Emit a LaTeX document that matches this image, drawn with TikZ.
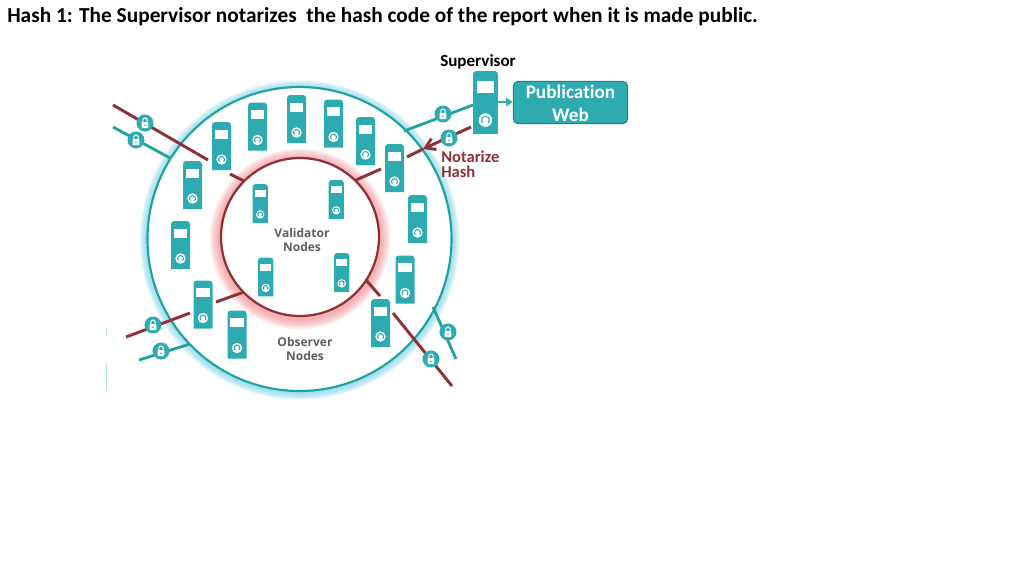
\documentclass[tikz,border=0pt]{standalone}
\usepackage{fontspec}
\setmainfont{Carlito}[Ligatures=NoCommon]
\newfontfamily\labelfont{Open Sans}
\usetikzlibrary{arrows.meta}
\definecolor{tealA}{HTML}{2EAAB1}
\definecolor{tealL}{HTML}{1FA39C}
\definecolor{redL}{HTML}{8F3136}
\definecolor{glowB}{HTML}{6CCFE8}
\definecolor{glowR}{HTML}{EE6F76}
\definecolor{greyT}{HTML}{5F5F5F}
\tikzset{
  x=0.75pt,y=-0.75pt,
  tealline/.style={draw=tealL,line width=2.1pt},
  redline/.style={draw=redL,line width=2.2pt},
  ringO/.style={draw=tealL,line width=1.6pt},
  ringI/.style={draw=redL,line width=1.7pt},
  greylabel/.style={font=\labelfont\bfseries\fontsize{9}{10.4}\selectfont,text=greyT,align=center},
  title/.style={font=\bfseries\fontsize{16}{18}\selectfont,anchor=west,inner sep=0pt},
}
% x,y = top-left corner; #3 = scale (1 = 19 x 48 px)
\newcommand{\serverbox}[3]{%
  \begin{scope}[shift={(#1,#2)},scale=#3]
    \fill[tealA] (0,48) [rounded corners=2.4pt] -- (0,0) -- (19,0) [sharp corners] -- (19,48) -- cycle;
    \fill[white] (2.7,7.5) rectangle (16.3,16.5);
    \fill[white] (9.5,37.5) circle (5.2);
    \draw[tealA,line width=0.8pt] (9.5,37.5) ++(135:3) arc[start angle=135,end angle=405,radius=3];
  \end{scope}}
\newcommand{\lockicon}[3]{%
  \node[circle,fill=tealA,minimum size=12.8pt,inner sep=0pt] (#1) at (#2,#3) {};
  \begin{scope}[shift={(#2,#3)}]
    \fill[white,rounded corners=0.5pt] (-3.4,-0.8) rectangle (3.4,5.2);
    \draw[white,line width=0.8pt] (-2.2,-0.8) -- (-2.2,-2.8) arc[start angle=180,end angle=360,radius=2.2] -- (2.2,-0.8);
    \fill[tealA] (0,2.2) circle (0.9);
  \end{scope}}
\begin{document}
\begin{tikzpicture}
\useasboundingbox (0,0) rectangle (1024,576);
\fill[white] (0,0) rectangle (1024,576);
% outer disc with glow
\foreach \r in {159.5,158.5,157,155.5,154}{\fill[glowB,opacity=0.17] (299.5,240) circle (\r);}
\fill[white] (299.5,239) circle (152);
\draw[ringO] (299.5,239) circle (152);
% inner disc with glow
\foreach \r in {90,88,86,84,82}{\fill[glowR,opacity=0.14] (300,239) circle (\r);}
\fill[white] (300,237) circle (79);
\draw[ringI] (300,237) circle (79);
% connector ends
\coordinate (ra1) at (113,105); \coordinate (ra2) at (208,160);
\coordinate (ra3) at (230,174); \coordinate (ra4) at (244,181);
\coordinate (ta1) at (113,127); \coordinate (ta2) at (170,158);
\coordinate (tb1) at (404,131); \coordinate (tb2) at (473,105);
\coordinate (rb1) at (471,127); \coordinate (rb2) at (423,149);
\coordinate (rb3) at (407,157); \coordinate (rb4) at (381,169);
\coordinate (rb5) at (356,180);
\coordinate (rc1) at (126,337); \coordinate (rc2) at (190,313);
\coordinate (rc3) at (216,302); \coordinate (rc4) at (244,292);
\coordinate (tc1) at (139,360); \coordinate (tc2) at (190,344);
\coordinate (rd1) at (366,280); \coordinate (rd2) at (380,296);
\coordinate (rd3) at (393,313); \coordinate (rd4) at (452,386);
\coordinate (td1) at (433,307); \coordinate (td2) at (456,359);
\draw[redline] (ra1) -- (ra2);
\draw[redline] (ra3) -- (ra4);
\draw[tealline] (ta1) -- (ta2);
\draw[tealline] (tb1) -- (tb2);
\draw[redline,-{Straight Barb[length=7pt,width=9pt]}] (rb1) -- (rb2);
\draw[redline] (rb4) -- (rb5);
\draw[redline] (rb2) -- (rb3);
\draw[redline] (rc1) -- (rc2);
\draw[redline] (rc3) -- (rc4);
\draw[tealline] (tc1) -- (tc2);
\draw[redline] (rd1) -- (rd2);
\draw[redline] (rd3) -- (rd4);
\draw[tealline] (td1) -- (td2);
% observer nodes
\serverbox{183}{161}{1}
\serverbox{212}{122}{1}
\serverbox{248}{102.5}{1}
\serverbox{287}{95}{1}
\serverbox{324}{99.5}{1}
\serverbox{356}{117}{1}
\serverbox{385}{144}{1}
\serverbox{408}{195}{1}
\serverbox{395.5}{255.5}{1}
\serverbox{371}{299}{1}
\serverbox{227.5}{310.5}{1}
\serverbox{193.5}{280.5}{1}
\serverbox{171}{221}{1}
% validator nodes
\serverbox{252.5}{184}{0.81}
\serverbox{328.5}{180}{0.81}
\serverbox{258}{257.5}{0.81}
\serverbox{334}{253}{0.81}
% supervisor
\serverbox{473}{71}{1.31}
% locks
\lockicon{l1}{145}{123}
\lockicon{l2}{136}{140}
\lockicon{l3}{443}{114}
\lockicon{l4}{449}{138}
\lockicon{l5}{153}{325}
\lockicon{l6}{161}{351}
\lockicon{l7}{448}{332}
\lockicon{l8}{431}{359}
% labels
\node[greylabel] (val) at (302,240) {Validator\\Nodes};
\node[greylabel] (obs) at (305,349) {Observer\\Nodes};
\node[title] (ttl) at (7,17) {Hash 1: The Supervisor notarizes\ \ the hash code of the report when it is made public.};
\node[font=\bfseries\fontsize{12.8}{13}\selectfont,inner sep=0pt] (sup) at (478,62) {Supervisor};
\coordinate (supout) at (498,102);
\node[draw=tealL!70!black,fill=tealA,line width=0.6pt,rounded corners=4pt,minimum width=86pt,minimum height=32pt,inner sep=0pt] (web) at (570.5,102.5) {};
\node[inner sep=0pt,align=center,text=white,font=\bfseries\fontsize{14.4}{17}\selectfont] (webt) at (570.5,103.5) {Publication\\Web};
\draw[tealA,line width=1.4pt,-{Triangle[length=5pt,width=6pt]}] (supout) -- (web.west |- supout);
\node[anchor=north west,inner sep=0pt,align=left,text=redL,font=\bfseries\fontsize{12.4}{10.8}\selectfont] (nh) at (441,151) {Notarize\\Hash};
% scan remnants at the left edge
\coordinate (e1) at (106.5,329); \coordinate (e2) at (106.5,335);
\coordinate (e3) at (106.5,364); \coordinate (e4) at (106.5,390);
\draw[tealL!35,line width=0.5pt] (e1) -- (e2);
\draw[tealL!35,line width=0.5pt] (e3) -- (e4);
\end{tikzpicture}
\end{document}
